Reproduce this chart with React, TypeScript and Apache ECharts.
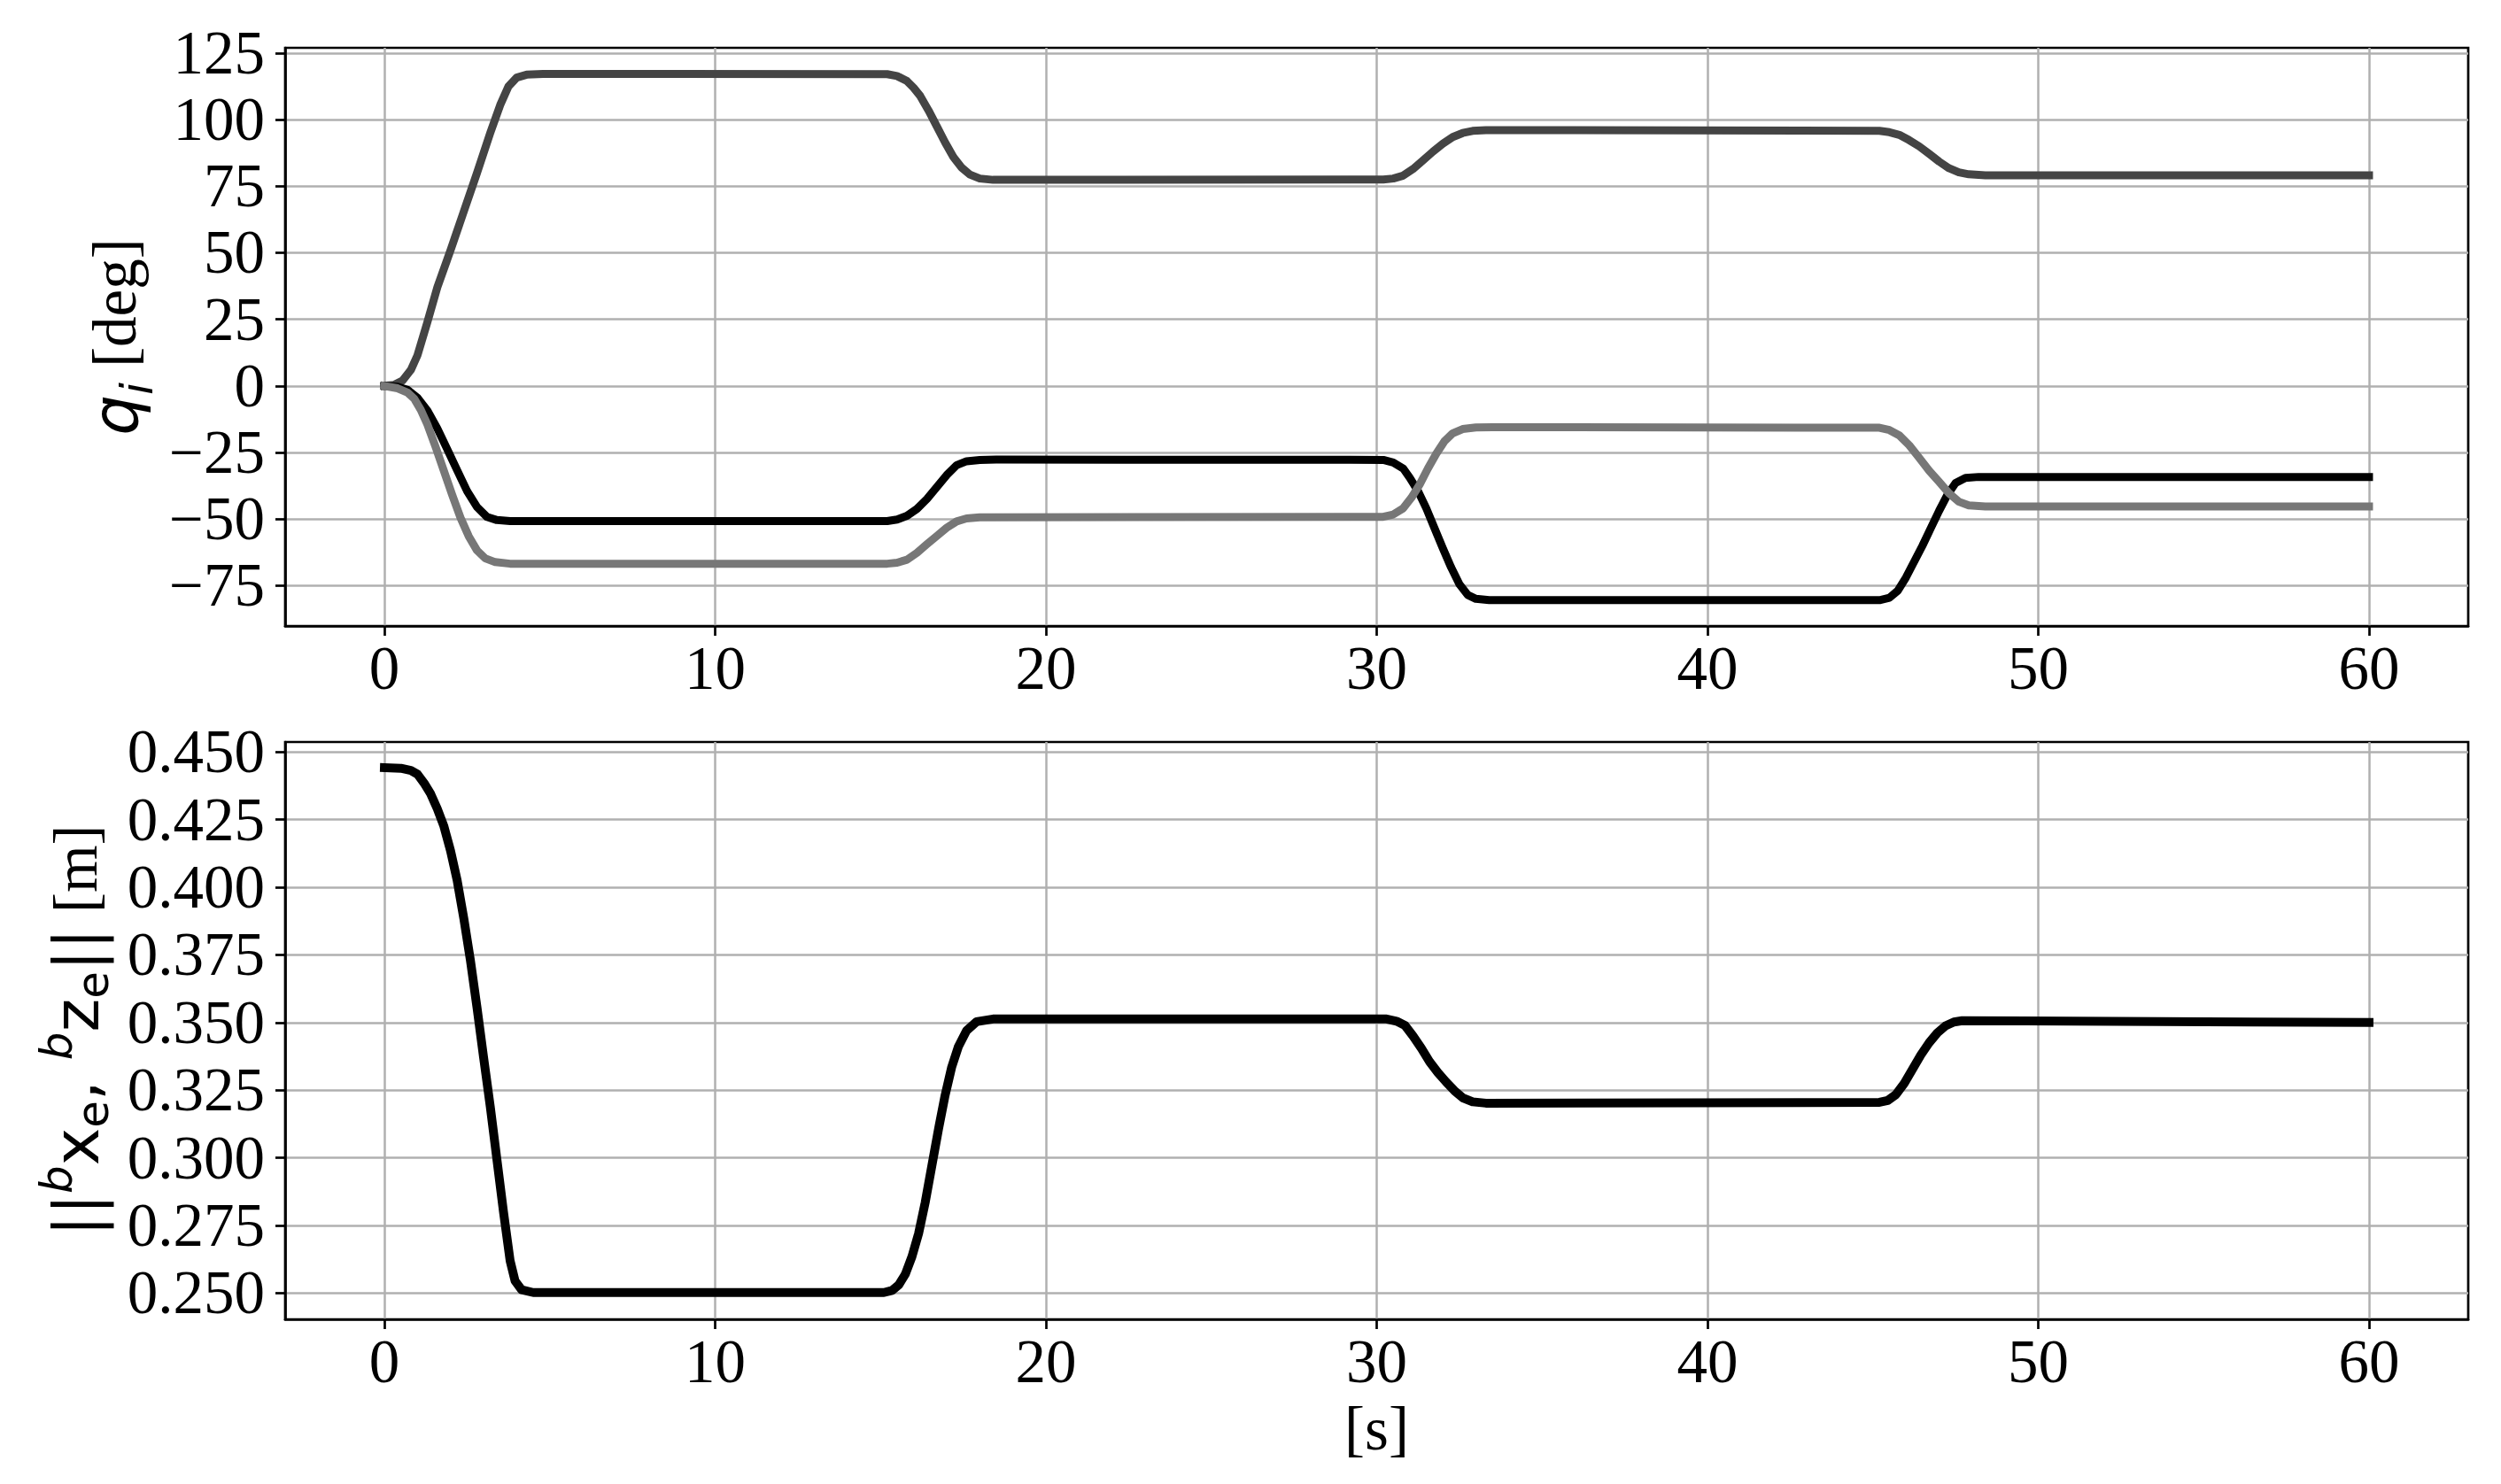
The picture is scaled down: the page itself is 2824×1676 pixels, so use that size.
import React, { useEffect, useRef } from 'react';
import * as echarts from 'echarts';

// ---- tick values ----
const timeTicks = [0, 10, 20, 30, 40, 50, 60];
const jointTicks = [-75, -50, -25, 0, 25, 50, 75, 100, 125];
const distTicks = [0.25, 0.275, 0.3, 0.325, 0.35, 0.375, 0.4, 0.425, 0.45];

// ---- joint angles q_i [deg] (t [s], value) ----
const q1Points = [
  [0, 0], [0.3, 0.4], [0.55, 2], [0.8, 6], [1.0, 11.5], [1.3, 24], [1.6, 37], [2.0, 51],
  [2.4, 65.5], [2.8, 80], [3.2, 95], [3.5, 105.5], [3.75, 112.5], [4.0, 115.8], [4.3, 116.9],
  [4.8, 117.2], [15.2, 117.1], [15.5, 116.4], [15.8, 114.5], [16.0, 112], [16.2, 108.9],
  [16.45, 103.5], [16.7, 97.5], [16.95, 91.5], [17.2, 86], [17.45, 82], [17.7, 79.4],
  [18.0, 77.9], [18.4, 77.4], [30.2, 77.5], [30.5, 77.9], [30.8, 79], [31.1, 81.5],
  [31.4, 84.7], [31.7, 88], [32.0, 91], [32.3, 93.5], [32.6, 95], [32.9, 95.8], [33.3, 96.1],
  [45.2, 95.8], [45.5, 95.3], [45.8, 94.3], [46.1, 92.3], [46.4, 90], [46.7, 87.2],
  [47.0, 84.3], [47.3, 81.8], [47.6, 80.2], [47.9, 79.5], [48.4, 79.1], [60, 79.1],
];
const q2Points = [
  [0, 0], [0.4, -0.3], [0.7, -1.5], [1.0, -4.5], [1.3, -9.3], [1.6, -16], [1.9, -23.8],
  [2.2, -31.7], [2.5, -39.5], [2.8, -45.5], [3.1, -49.2], [3.4, -50.4], [3.8, -50.8],
  [15.2, -50.8], [15.5, -50.2], [15.8, -48.8], [16.1, -46.2], [16.4, -42.5], [16.7, -38],
  [17.0, -33.5], [17.3, -29.8], [17.6, -28.3], [18.0, -27.8], [18.5, -27.7], [30.2, -27.8],
  [30.5, -28.8], [30.8, -31], [31.0, -34.5], [31.25, -39.5], [31.5, -46], [31.75, -53.5],
  [32.0, -61], [32.25, -68.2], [32.5, -74.5], [32.75, -78.5], [33.0, -80], [33.4, -80.5],
  [45.2, -80.5], [45.5, -79.6], [45.75, -77], [46.0, -72], [46.25, -66], [46.5, -60],
  [46.75, -53.5], [47.0, -47], [47.25, -41], [47.5, -36.5], [47.8, -34.6], [48.2, -34.2],
  [60, -34.2],
];
const q3Points = [
  [0, 0], [0.4, -0.9], [0.7, -2.5], [0.9, -4.8], [1.1, -9], [1.3, -14.5], [1.55, -23],
  [1.8, -32], [2.05, -41], [2.3, -49.5], [2.55, -56.5], [2.8, -61.8], [3.05, -64.8],
  [3.35, -66.2], [3.8, -66.8], [15.2, -66.8], [15.5, -66.4], [15.8, -65.3], [16.1, -62.7],
  [16.4, -59.5], [16.7, -56.4], [17.0, -53.3], [17.3, -50.9], [17.6, -49.8], [18.0, -49.4],
  [30.2, -49.2], [30.5, -48.3], [30.8, -46], [31.05, -42], [31.3, -37], [31.55, -31],
  [31.8, -25.5], [32.05, -20.8], [32.3, -17.8], [32.6, -16.2], [33.0, -15.6], [33.5, -15.5],
  [45.2, -15.7], [45.5, -16.6], [45.8, -18.6], [46.1, -22.3], [46.4, -27], [46.7, -31.8],
  [47.0, -36], [47.3, -40.3], [47.6, -43.5], [47.9, -44.9], [48.4, -45.3], [60, -45.3],
];

// ---- end-effector distance [m] ----
const distPoints = [
  [0, 0.4442], [0.5, 0.444], [0.8, 0.4432], [1.0, 0.4418], [1.2, 0.4385], [1.4, 0.4345],
  [1.6, 0.429], [1.8, 0.4225], [2.0, 0.4135], [2.2, 0.4025], [2.4, 0.3885], [2.6, 0.373],
  [2.8, 0.3555], [3.0, 0.337], [3.2, 0.319], [3.4, 0.2995], [3.6, 0.28], [3.8, 0.262],
  [3.95, 0.2545], [4.15, 0.2512], [4.5, 0.2502], [15.1, 0.2502], [15.35, 0.251],
  [15.55, 0.253], [15.75, 0.257], [15.95, 0.2635], [16.15, 0.272], [16.35, 0.2835],
  [16.55, 0.297], [16.75, 0.3105], [16.95, 0.323], [17.15, 0.3335], [17.35, 0.341],
  [17.6, 0.347], [17.9, 0.3503], [18.4, 0.3513], [30.3, 0.3513], [30.6, 0.3505],
  [30.85, 0.349], [31.1, 0.345], [31.35, 0.3405], [31.6, 0.3355], [31.85, 0.3315],
  [32.1, 0.328], [32.35, 0.3248], [32.6, 0.3222], [32.9, 0.3207], [33.3, 0.3202],
  [45.2, 0.3205], [45.45, 0.3212], [45.7, 0.3234], [45.95, 0.3275], [46.2, 0.3328],
  [46.45, 0.338], [46.7, 0.3425], [46.95, 0.3462], [47.2, 0.3488], [47.45, 0.3502],
  [47.7, 0.3507], [60, 0.35],
];

const SERIF = 'Liberation Serif';
const SANS = 'DejaVu Sans';
const FS = 69;
const MFS = 72;
const SFS = 50;
const GRID_COLOR = '#b0b0b0';

function fmtSigned(v: number): string {
  return v < 0 ? '\u2212' + Math.abs(v) : String(v);
}

function xAxisCfg(gridIndex: number, withName: boolean) {
  return {
    type: 'value',
    gridIndex,
    min: -3,
    max: 63,
    axisLine: { show: true, onZero: false, lineStyle: { color: '#000', width: 2.7 } },
    axisTick: { show: true, length: 11, customValues: timeTicks, lineStyle: { color: '#000', width: 2.7 } },
    axisLabel: {
      show: true,
      customValues: timeTicks,
      fontFamily: SERIF,
      fontSize: FS,
      lineHeight: FS,
      color: '#000',
      margin: 13,
    },
    splitLine: { show: true, lineStyle: { color: GRID_COLOR, width: 2.5 } },
    name: withName ? '[s]' : '',
    nameLocation: 'middle',
    nameGap: 89,
    nameTextStyle: { fontFamily: SERIF, fontSize: FS, lineHeight: FS, color: '#000' },
  };
}

function yAxisBase(gridIndex: number, min: number, max: number, ticks: number[], fmt: (v: number) => string) {
  return {
    type: 'value',
    gridIndex,
    min,
    max,
    axisLine: { show: true, onZero: false, lineStyle: { color: '#000', width: 2.7 } },
    axisTick: { show: true, length: 11, customValues: ticks, lineStyle: { color: '#000', width: 2.7 } },
    axisLabel: {
      show: true,
      customValues: ticks,
      formatter: fmt,
      fontFamily: SERIF,
      fontSize: FS,
      lineHeight: FS,
      color: '#000',
      margin: 23,
    },
    splitLine: { show: true, lineStyle: { color: GRID_COLOR, width: 2.5 } },
    nameLocation: 'middle',
  };
}

function lineSeries(data: number[][], idx: number, color: string, width: number) {
  return {
    type: 'line',
    xAxisIndex: idx,
    yAxisIndex: idx,
    data,
    showSymbol: false,
    symbol: 'none',
    smooth: false,
    lineStyle: { color, width, cap: 'square', join: 'round' },
    emphasis: { disabled: true },
    z: 3,
  };
}

export default function App() {
  const ref = useRef<HTMLDivElement>(null);
  useEffect(() => {
    document.body.style.margin = '0';
    const chart = echarts.init(ref.current as HTMLDivElement, null, { renderer: 'svg' });
    const topY: any = yAxisBase(0, -90.2, 127, jointTicks, fmtSigned);
    topY.name = '{q|q}{i|i}{u| [deg]}';
    topY.nameGap = 142;
    topY.nameTextStyle = {
      rich: {
        q: { fontFamily: SANS, fontStyle: 'italic', fontSize: MFS, lineHeight: MFS, color: '#000' },
        i: { fontFamily: SANS, fontStyle: 'italic', fontSize: SFS, lineHeight: SFS, padding: [50, 0, 0, 0], color: '#000' },
        u: { fontFamily: SERIF, fontSize: FS, lineHeight: FS, color: '#000' },
      },
    };
    const botY: any = yAxisBase(1, 0.2403, 0.4537, distTicks, (v: number) => v.toFixed(3));
    botY.name = '{bar|||}{sup|b}{m|x}{sub|e}{m|, }{sup|b}{m|z}{sub|e}{bar|||}{u| [m]}';
    botY.nameGap = 190;
    botY.nameTextStyle = {
      rich: {
        bar: { fontFamily: SANS, fontSize: MFS, lineHeight: MFS, color: '#000' },
        m: { fontFamily: SANS, fontSize: MFS, lineHeight: MFS, color: '#000' },
        sup: { fontFamily: SANS, fontStyle: 'italic', fontSize: SFS, lineHeight: SFS, padding: [0, 0, 44, 0], color: '#000' },
        sub: { fontFamily: SANS, fontSize: SFS, lineHeight: SFS, padding: [38, 0, 0, 0], color: '#000' },
        u: { fontFamily: SERIF, fontSize: FS, lineHeight: FS, color: '#000' },
      },
    };
    chart.setOption({
      animation: false,
      backgroundColor: '#ffffff',
      grid: [
        { left: 322, top: 54, width: 2465, height: 653, show: true, borderColor: '#000', borderWidth: 2.7, backgroundColor: 'transparent', containLabel: false },
        { left: 322, top: 838, width: 2465, height: 652, show: true, borderColor: '#000', borderWidth: 2.7, backgroundColor: 'transparent', containLabel: false },
      ],
      xAxis: [xAxisCfg(0, false), xAxisCfg(1, true)],
      yAxis: [topY, botY],
      series: [
        lineSeries(q1Points, 0, '#444444', 9),
        lineSeries(q2Points, 0, '#000000', 9),
        lineSeries(q3Points, 0, '#777777', 9),
        lineSeries(distPoints, 1, '#000000', 10),
      ],
    });
    return () => chart.dispose();
  }, []);
  return <div ref={ref} style={{ width: 2824, height: 1676 }} />;
}
